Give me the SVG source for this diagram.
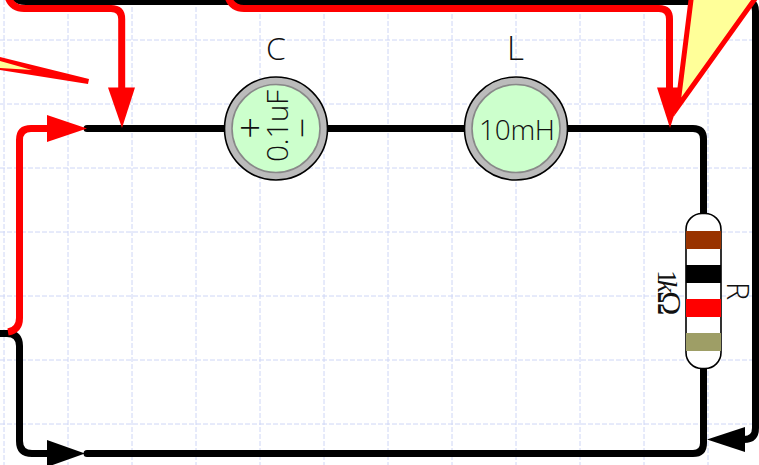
<svg xmlns="http://www.w3.org/2000/svg" width="759" height="465" viewBox="0 0 759 465">
<style>
.grid{stroke:#ced6f6;stroke-width:1;stroke-dasharray:5 2;fill:none}
.w{fill:none;stroke:#000;stroke-width:7;stroke-linecap:round}
.r{fill:none;stroke:#f00;stroke-width:7;stroke-linecap:butt}
.t{font-family:"Open Sans","Liberation Sans",Arial,sans-serif;font-weight:300;fill:#111}
.outer{fill:#bbb;stroke:#000;stroke-width:1.6}
.inner{fill:#cfc;stroke:#888;stroke-width:1.6}
</style>
<rect width="759" height="465" fill="#fff"/>
<g id="grid" class="grid">
<path d="M0 40H759M0 104H759M0 168H759M0 232H759M0 296H759M0 360H759M0 424H759"/>
<path d="M4 0V465M68 0V465M132 0V465M196 0V465M260 0V465M324 0V465M388 0V465M452 0V465M516 0V465M580 0V465M644 0V465M708 0V465"/>
</g>
<g id="connectors">
<path class="w" d="M87 128.500H693Q703.500 128.500 703.500 139V443Q703.500 453.500 693 453.500H87"/>
<path class="w" d="M13 -6Q15 1.500 26 1.500H746Q755.500 1.500 755.500 11V428Q755.500 439.500 744 439.500H735"/>
<path class="w" stroke-linecap="butt" d="M-2 333.500H7Q19.500 333.500 19.500 346V441Q19.500 453.500 32 453.500H60"/>
<path class="r" d="M8 -3Q12 8.500 24 8.500H111Q121.700 8.500 121.700 19V95"/>
<path class="r" d="M228 -3Q232 8.500 244 8.500H659Q669.500 8.500 669.500 19V95"/>
<path class="r" d="M8 332Q19.500 330 19.500 318V140Q19.500 128.500 31 128.500H60"/>
<polygon points="108,87.500 135,87.500 122,128" fill="#f00"/>
<polygon points="657,87.500 683,87.500 670,128" fill="#f00"/>
<polygon points="47,115 47,142 87,128.500" fill="#f00"/>
<polygon points="47,440 47,467 85,453.500" fill="#000"/>
<polygon points="745,427 745,452 707,439.500" fill="#000"/>
</g>
<g id="callout">
<polygon points="691.500,-4 677.600,107 757,-4" fill="#ff9" stroke="#f00" stroke-width="5" stroke-miterlimit="20"/>
<polygon points="0,57 89,79 88,84 0,70" fill="#f00"/>
<polygon points="0,61 32,70 0,68" fill="#ff9"/>
</g>
<g id="C">
<circle class="outer" cx="276" cy="128.500" r="51.500"/>
<circle class="inner" cx="276" cy="128.500" r="44"/>
<text class="t" x="276" y="60" font-size="32" text-anchor="middle">C</text>
<text class="t" transform="translate(288 126) rotate(-90)" font-size="30" text-anchor="middle" textLength="72" lengthAdjust="spacing">0.1uF</text>
<text class="t" transform="translate(263.700 128) rotate(-90)" font-size="38" text-anchor="middle">+</text>
<text class="t" transform="translate(315 128) rotate(-90)" font-size="36" text-anchor="middle">−</text>
</g>
<g id="L">
<circle class="outer" cx="516" cy="128.500" r="51.500"/>
<circle class="inner" cx="516" cy="128.500" r="44"/>
<text class="t" x="515.500" y="60" font-size="33" text-anchor="middle">L</text>
<text class="t" x="517" y="140" font-size="28" text-anchor="middle" textLength="76" lengthAdjust="spacing">10mH</text>
</g>
<g id="R">
<rect x="686" y="213.500" width="35" height="155" rx="16" fill="#fff" stroke="#000" stroke-width="1.600"/>
<rect x="686" y="231" width="35" height="18" fill="#930"/>
<rect x="686" y="265" width="35" height="18" fill="#000"/>
<rect x="686" y="299" width="35" height="18" fill="#f00"/>
<rect x="686" y="333" width="35" height="18" fill="#9e9e66"/>
<text class="t" transform="translate(727 291) rotate(90)" font-size="31" text-anchor="middle">R</text>
<text transform="translate(658 270) rotate(90)" font-family="'Liberation Serif','Times New Roman',serif" font-size="28" fill="#111">1<tspan x="10" font-style="italic">k</tspan><tspan x="21" font-size="33">Ω</tspan></text>
</g>
</svg>
